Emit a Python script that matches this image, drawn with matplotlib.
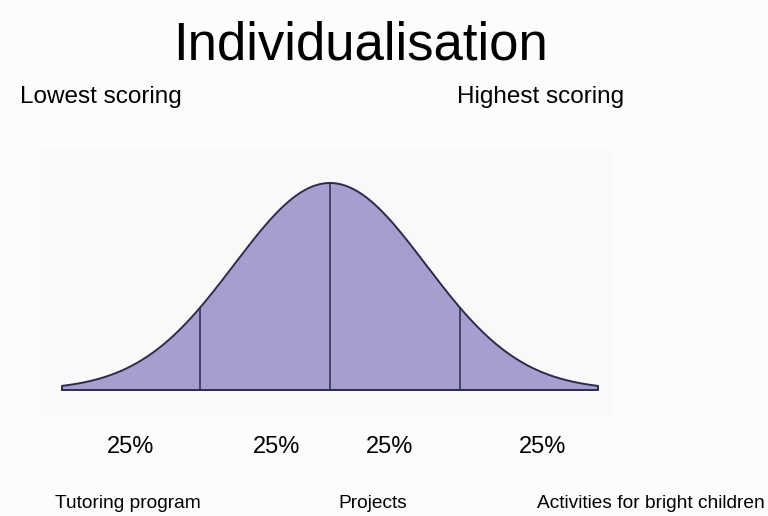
import matplotlib.pyplot as plt
import numpy as np

# bell curve (standard units) and the cut lines between the four groups
curve_min, curve_max = -2.8, 2.8
cut_points = [-1.36, 0.0, 1.36]
shares = ["25%", "25%", "25%", "25%"]
share_x = [131, 277, 390, 543]          # label centres, pixels
side_labels = ["Lowest scoring", "Highest scoring"]
programs = ["Tutoring program", "Projects", "Activities for bright children"]
program_x = [55, 338, 537]              # left edges, pixels

W, H = 768, 516
fill_color = "#a59ecf"
edge_color = "#2b2b4e"

plt.rcParams["font.family"] = ["Liberation Sans", "DejaVu Sans"]

fig = plt.figure(figsize=(W / 100, H / 100), dpi=100, facecolor="#fcfcfc")

# plot area (faint panel)
px_left, px_right, px_top, px_bot = 40, 613, 150, 415
ax = fig.add_axes([px_left / W, 1 - px_bot / H,
                   (px_right - px_left) / W, (px_bot - px_top) / H])
ax.set_facecolor("#f9f9f9")
for s in ax.spines.values():
    s.set_visible(False)
ax.set_xticks([])
ax.set_yticks([])

scale = (598 - 62) / (curve_max - curve_min)   # px per unit
ax.set_xlim(curve_min - (62 - px_left) / scale, curve_max + (px_right - 598) / scale)
ax.set_ylim(-(px_bot - 390) / 207, 1 + (183 - px_top) / 207)

x = np.linspace(curve_min, curve_max, 400)
y = np.exp(-x ** 2 / 2)
ax.fill_between(x, 0, y, color=fill_color, lw=0)
xs = np.concatenate([[curve_min], x, [curve_max, curve_min]])
ys = np.concatenate([[0], y, [0, 0]])
ax.plot(xs, ys, color=edge_color, lw=1.4, solid_joinstyle="round")
for c in cut_points:
    ax.plot([c, c], [0, np.exp(-c ** 2 / 2)], color=edge_color, lw=1.1)

# texts
fig.text(360 / W, 1 - 45 / H, "Individualisation", ha="center", va="center",
         fontsize=38)
fig.text(20 / W, 1 - 97 / H, side_labels[0], ha="left", va="center", fontsize=17.5)
fig.text(457 / W, 1 - 97 / H, side_labels[1], ha="left", va="center", fontsize=17.5)
for sx, s in zip(share_x, shares):
    fig.text(sx / W, 1 - 447 / H, s, ha="center", va="center", fontsize=17)
for px, p in zip(program_x, programs):
    fig.text(px / W, 1 - 503 / H, p, ha="left", va="center", fontsize=13.8)

fig.savefig("out.png", dpi=100, facecolor=fig.get_facecolor())
